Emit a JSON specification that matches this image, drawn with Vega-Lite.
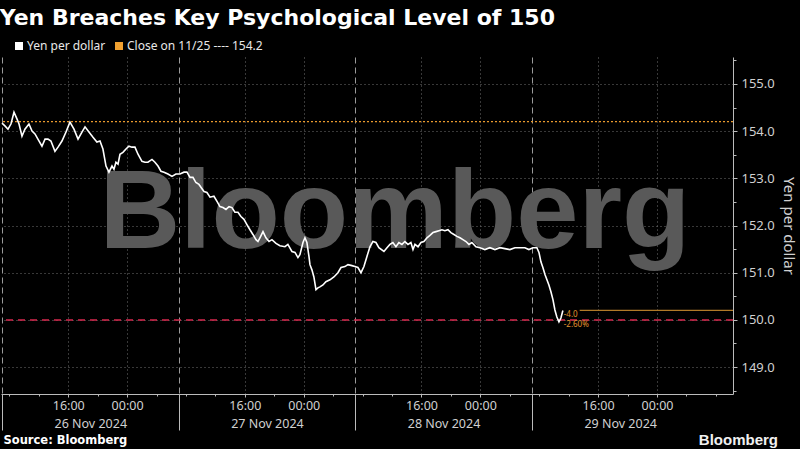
{
  "$schema": "https://vega.github.io/schema/vega-lite/v6.json",
  "width": 732,
  "height": 337,
  "autosize": {"type": "none"},
  "padding": {"left": 1, "top": 57, "right": 67, "bottom": 55},
  "background": "#000000",
  "title": {
    "text": "Yen Breaches Key Psychological Level of 150",
    "anchor": "start",
    "font": "DejaVu Sans",
    "fontSize": 22,
    "fontWeight": "bold",
    "color": "#ffffff",
    "offset": 10,
    "dx": 1
  },
  "config": {
    "view": {"stroke": null},
    "font": "Noto Sans",
    "axis": {"labelOverlap": false, "zindex": 1}
  },
  "resolve": {"axis": {"x": "independent", "y": "independent"}},
  "datasets": {
    "yen": [
      {"t": "2024-11-26T07:00Z", "v": 154.17}, {"t": "2024-11-26T07:24Z", "v": 154.11}, {"t": "2024-11-26T07:49Z", "v": 154.04},
      {"t": "2024-11-26T08:13Z", "v": 154.15}, {"t": "2024-11-26T08:38Z", "v": 154.40}, {"t": "2024-11-26T09:02Z", "v": 154.26},
      {"t": "2024-11-26T09:19Z", "v": 154.15}, {"t": "2024-11-26T09:43Z", "v": 153.89}, {"t": "2024-11-26T10:07Z", "v": 154.04},
      {"t": "2024-11-26T10:40Z", "v": 154.15}, {"t": "2024-11-26T11:05Z", "v": 154.00}, {"t": "2024-11-26T11:29Z", "v": 153.94},
      {"t": "2024-11-26T11:53Z", "v": 153.83}, {"t": "2024-11-26T12:26Z", "v": 153.68}, {"t": "2024-11-26T12:51Z", "v": 153.83},
      {"t": "2024-11-26T13:15Z", "v": 153.83}, {"t": "2024-11-26T13:39Z", "v": 153.79}, {"t": "2024-11-26T14:12Z", "v": 153.57},
      {"t": "2024-11-26T14:37Z", "v": 153.66}, {"t": "2024-11-26T15:09Z", "v": 153.79}, {"t": "2024-11-26T15:42Z", "v": 153.98},
      {"t": "2024-11-26T16:14Z", "v": 154.19}, {"t": "2024-11-26T16:47Z", "v": 154.04}, {"t": "2024-11-26T17:20Z", "v": 153.83},
      {"t": "2024-11-26T17:52Z", "v": 153.98}, {"t": "2024-11-26T18:17Z", "v": 154.09}, {"t": "2024-11-26T18:49Z", "v": 153.98},
      {"t": "2024-11-26T19:22Z", "v": 153.87}, {"t": "2024-11-26T19:54Z", "v": 153.77}, {"t": "2024-11-26T20:19Z", "v": 153.79},
      {"t": "2024-11-26T20:43Z", "v": 153.62}, {"t": "2024-11-26T21:08Z", "v": 153.26}, {"t": "2024-11-26T21:32Z", "v": 153.13},
      {"t": "2024-11-26T21:57Z", "v": 153.26}, {"t": "2024-11-26T22:13Z", "v": 153.19}, {"t": "2024-11-26T22:29Z", "v": 153.34},
      {"t": "2024-11-26T22:46Z", "v": 153.30}, {"t": "2024-11-26T23:02Z", "v": 153.51}, {"t": "2024-11-26T23:26Z", "v": 153.55},
      {"t": "2024-11-26T23:51Z", "v": 153.62},
      {"t": "2024-11-27T00:15Z", "v": 153.68}, {"t": "2024-11-27T00:40Z", "v": 153.66}, {"t": "2024-11-27T01:04Z", "v": 153.66},
      {"t": "2024-11-27T01:29Z", "v": 153.51}, {"t": "2024-11-27T02:01Z", "v": 153.36}, {"t": "2024-11-27T02:26Z", "v": 153.34},
      {"t": "2024-11-27T02:50Z", "v": 153.34}, {"t": "2024-11-27T03:23Z", "v": 153.40}, {"t": "2024-11-27T03:47Z", "v": 153.34},
      {"t": "2024-11-27T04:12Z", "v": 153.26}, {"t": "2024-11-27T04:36Z", "v": 153.15}, {"t": "2024-11-27T05:01Z", "v": 153.13},
      {"t": "2024-11-27T05:33Z", "v": 153.09}, {"t": "2024-11-27T06:06Z", "v": 153.04}, {"t": "2024-11-27T06:38Z", "v": 153.09},
      {"t": "2024-11-27T07:11Z", "v": 153.09}, {"t": "2024-11-27T07:44Z", "v": 153.13}, {"t": "2024-11-27T08:08Z", "v": 153.13},
      {"t": "2024-11-27T08:33Z", "v": 153.02}, {"t": "2024-11-27T08:57Z", "v": 153.02}, {"t": "2024-11-27T09:21Z", "v": 152.91},
      {"t": "2024-11-27T09:46Z", "v": 152.87}, {"t": "2024-11-27T10:02Z", "v": 152.81}, {"t": "2024-11-27T10:27Z", "v": 152.72},
      {"t": "2024-11-27T10:51Z", "v": 152.70}, {"t": "2024-11-27T11:16Z", "v": 152.60}, {"t": "2024-11-27T11:48Z", "v": 152.62},
      {"t": "2024-11-27T12:13Z", "v": 152.51}, {"t": "2024-11-27T12:37Z", "v": 152.40}, {"t": "2024-11-27T13:02Z", "v": 152.38},
      {"t": "2024-11-27T13:26Z", "v": 152.34}, {"t": "2024-11-27T13:51Z", "v": 152.40}, {"t": "2024-11-27T14:15Z", "v": 152.38},
      {"t": "2024-11-27T14:39Z", "v": 152.28}, {"t": "2024-11-27T15:04Z", "v": 152.28}, {"t": "2024-11-27T15:28Z", "v": 152.19},
      {"t": "2024-11-27T15:53Z", "v": 152.13}, {"t": "2024-11-27T16:17Z", "v": 152.02}, {"t": "2024-11-27T16:42Z", "v": 151.91},
      {"t": "2024-11-27T17:06Z", "v": 151.81}, {"t": "2024-11-27T17:31Z", "v": 151.70}, {"t": "2024-11-27T17:47Z", "v": 151.66},
      {"t": "2024-11-27T18:03Z", "v": 151.74}, {"t": "2024-11-27T18:28Z", "v": 151.87}, {"t": "2024-11-27T18:52Z", "v": 151.74},
      {"t": "2024-11-27T19:17Z", "v": 151.66}, {"t": "2024-11-27T19:41Z", "v": 151.70}, {"t": "2024-11-27T20:14Z", "v": 151.62},
      {"t": "2024-11-27T20:46Z", "v": 151.57}, {"t": "2024-11-27T21:27Z", "v": 151.55}, {"t": "2024-11-27T21:51Z", "v": 151.60},
      {"t": "2024-11-27T22:24Z", "v": 151.45}, {"t": "2024-11-27T22:49Z", "v": 151.43}, {"t": "2024-11-27T23:13Z", "v": 151.32},
      {"t": "2024-11-27T23:29Z", "v": 151.38}, {"t": "2024-11-27T23:54Z", "v": 151.64},
      {"t": "2024-11-28T00:10Z", "v": 151.74}, {"t": "2024-11-28T00:26Z", "v": 151.64}, {"t": "2024-11-28T00:43Z", "v": 151.34},
      {"t": "2024-11-28T00:51Z", "v": 151.17}, {"t": "2024-11-28T01:07Z", "v": 151.06}, {"t": "2024-11-28T01:23Z", "v": 150.91},
      {"t": "2024-11-28T01:40Z", "v": 150.64}, {"t": "2024-11-28T01:56Z", "v": 150.68}, {"t": "2024-11-28T02:12Z", "v": 150.70},
      {"t": "2024-11-28T02:37Z", "v": 150.74}, {"t": "2024-11-28T03:01Z", "v": 150.81}, {"t": "2024-11-28T03:34Z", "v": 150.85},
      {"t": "2024-11-28T04:06Z", "v": 150.91}, {"t": "2024-11-28T04:39Z", "v": 151.00}, {"t": "2024-11-28T05:04Z", "v": 151.11},
      {"t": "2024-11-28T05:36Z", "v": 151.13}, {"t": "2024-11-28T06:01Z", "v": 151.17}, {"t": "2024-11-28T06:33Z", "v": 151.15},
      {"t": "2024-11-28T06:58Z", "v": 151.13}, {"t": "2024-11-28T07:22Z", "v": 151.11}, {"t": "2024-11-28T07:47Z", "v": 151.00},
      {"t": "2024-11-28T08:11Z", "v": 151.13}, {"t": "2024-11-28T08:35Z", "v": 151.34}, {"t": "2024-11-28T09:00Z", "v": 151.55},
      {"t": "2024-11-28T09:24Z", "v": 151.66}, {"t": "2024-11-28T09:49Z", "v": 151.64}, {"t": "2024-11-28T10:13Z", "v": 151.53},
      {"t": "2024-11-28T10:54Z", "v": 151.45}, {"t": "2024-11-28T11:19Z", "v": 151.53}, {"t": "2024-11-28T11:43Z", "v": 151.60},
      {"t": "2024-11-28T12:07Z", "v": 151.64}, {"t": "2024-11-28T12:32Z", "v": 151.55}, {"t": "2024-11-28T12:56Z", "v": 151.64},
      {"t": "2024-11-28T13:21Z", "v": 151.60}, {"t": "2024-11-28T13:45Z", "v": 151.66}, {"t": "2024-11-28T14:10Z", "v": 151.60},
      {"t": "2024-11-28T14:34Z", "v": 151.64}, {"t": "2024-11-28T14:51Z", "v": 151.49}, {"t": "2024-11-28T15:07Z", "v": 151.60},
      {"t": "2024-11-28T15:32Z", "v": 151.55}, {"t": "2024-11-28T15:56Z", "v": 151.64}, {"t": "2024-11-28T16:20Z", "v": 151.66},
      {"t": "2024-11-28T16:45Z", "v": 151.74}, {"t": "2024-11-28T17:09Z", "v": 151.79}, {"t": "2024-11-28T17:34Z", "v": 151.85},
      {"t": "2024-11-28T17:58Z", "v": 151.87}, {"t": "2024-11-28T18:22Z", "v": 151.89}, {"t": "2024-11-28T18:47Z", "v": 151.91},
      {"t": "2024-11-28T19:11Z", "v": 151.89}, {"t": "2024-11-28T19:36Z", "v": 151.91}, {"t": "2024-11-28T20:00Z", "v": 151.85},
      {"t": "2024-11-28T20:25Z", "v": 151.81}, {"t": "2024-11-28T20:49Z", "v": 151.77}, {"t": "2024-11-28T21:14Z", "v": 151.74},
      {"t": "2024-11-28T21:38Z", "v": 151.70}, {"t": "2024-11-28T22:03Z", "v": 151.66}, {"t": "2024-11-28T22:27Z", "v": 151.60},
      {"t": "2024-11-28T22:51Z", "v": 151.64}, {"t": "2024-11-28T23:24Z", "v": 151.55}, {"t": "2024-11-28T23:57Z", "v": 151.53},
      {"t": "2024-11-29T00:37Z", "v": 151.49}, {"t": "2024-11-29T01:18Z", "v": 151.53}, {"t": "2024-11-29T01:59Z", "v": 151.49},
      {"t": "2024-11-29T02:40Z", "v": 151.53}, {"t": "2024-11-29T03:20Z", "v": 151.51}, {"t": "2024-11-29T04:01Z", "v": 151.49},
      {"t": "2024-11-29T04:42Z", "v": 151.53}, {"t": "2024-11-29T05:23Z", "v": 151.53}, {"t": "2024-11-29T06:03Z", "v": 151.53},
      {"t": "2024-11-29T06:36Z", "v": 151.49}, {"t": "2024-11-29T07:09Z", "v": 151.53}, {"t": "2024-11-29T07:41Z", "v": 151.53},
      {"t": "2024-11-29T07:58Z", "v": 151.43}, {"t": "2024-11-29T08:14Z", "v": 151.23}, {"t": "2024-11-29T08:30Z", "v": 151.11},
      {"t": "2024-11-29T08:47Z", "v": 150.96}, {"t": "2024-11-29T09:03Z", "v": 150.85}, {"t": "2024-11-29T09:19Z", "v": 150.74},
      {"t": "2024-11-29T09:35Z", "v": 150.60}, {"t": "2024-11-29T09:52Z", "v": 150.43}, {"t": "2024-11-29T10:08Z", "v": 150.21},
      {"t": "2024-11-29T10:24Z", "v": 150.06}, {"t": "2024-11-29T10:41Z", "v": 149.96}, {"t": "2024-11-29T10:57Z", "v": 150.04},
      {"t": "2024-11-29T11:13Z", "v": 150.20}
    ],
    "lastline": [
      {"t": "2024-11-29T13:30Z", "t2": "2024-11-30T10:20Z", "v": 150.2}
    ]
  },
  "layer": [
    {
      "data": {"values": [{}]},
      "mark": {"type": "text", "text": "Bloomberg", "font": "Liberation Sans", "fontWeight": "bold", "fontSize": 112, "color": "#595959", "align": "center", "baseline": "alphabetic"},
      "encoding": {
        "x": {"datum": {"year": 2024, "month": 11, "date": 28, "hours": 12, "minutes": 24, "utc": true}, "type": "temporal", "axis": null},
        "y": {"datum": 151.53, "type": "quantitative", "axis": null}
      }
    },
    {
      "data": {"values": [{}]},
      "mark": {"type": "rule", "stroke": "#d6284e", "strokeWidth": 1.5, "strokeDash": [7, 5]},
      "encoding": {
        "y": {"datum": 150, "type": "quantitative", "axis": null}
      }
    },
    {
      "data": {"values": [{}]},
      "mark": {"type": "rule", "stroke": "#e8982c", "strokeWidth": 1.2, "strokeDash": [2, 2]},
      "encoding": {
        "y": {"datum": 154.2, "type": "quantitative", "axis": null}
      }
    },
    {
      "data": {"name": "lastline"},
      "mark": {"type": "rule", "stroke": "#b07a28", "strokeWidth": 1.2},
      "encoding": {
        "x": {
          "field": "t",
          "type": "temporal",
          "axis": {
            "orient": "bottom",
            "values": [
              {"year": 2024, "month": 11, "date": 26, "hours": 7, "utc": true},
              {"year": 2024, "month": 11, "date": 27, "hours": 7, "utc": true},
              {"year": 2024, "month": 11, "date": 28, "hours": 7, "utc": true},
              {"year": 2024, "month": 11, "date": 29, "hours": 7, "utc": true}
            ],
            "labels": false,
            "domain": false,
            "ticks": true,
            "tickSize": 36,
            "tickColor": "#bbbbbb",
            "grid": true,
            "gridColor": "#9a9a9a",
            "gridDash": [6, 4],
            "title": null
          }
        },
        "x2": {"field": "t2"},
        "y": {
          "field": "v",
          "type": "quantitative",
          "axis": {
            "orient": "right",
            "values": [148.5, 149.5, 150.5, 151.5, 152.5, 153.5, 154.5, 155.5],
            "labels": false,
            "domain": false,
            "grid": false,
            "ticks": true,
            "tickSize": 3,
            "tickColor": "#bbbbbb",
            "title": null
          }
        }
      }
    },
    {
      "data": {"name": "yen"},
      "mark": {"type": "line", "strokeWidth": 1.6, "interpolate": "linear"},
      "encoding": {
        "x": {
          "field": "t",
          "type": "temporal",
          "scale": {
            "type": "utc",
            "domain": [
              {"year": 2024, "month": 11, "date": 26, "hours": 6, "minutes": 52, "utc": true},
              {"year": 2024, "month": 11, "date": 30, "hours": 10, "minutes": 20, "utc": true}
            ]
          },
          "axis": {
            "orient": "bottom",
            "values": [
              {"year": 2024, "month": 11, "date": 26, "hours": 16, "utc": true},
              {"year": 2024, "month": 11, "date": 27, "hours": 0, "utc": true},
              {"year": 2024, "month": 11, "date": 27, "hours": 16, "utc": true},
              {"year": 2024, "month": 11, "date": 28, "hours": 0, "utc": true},
              {"year": 2024, "month": 11, "date": 28, "hours": 16, "utc": true},
              {"year": 2024, "month": 11, "date": 29, "hours": 0, "utc": true},
              {"year": 2024, "month": 11, "date": 29, "hours": 16, "utc": true},
              {"year": 2024, "month": 11, "date": 30, "hours": 0, "utc": true}
            ],
            "labelExpr": "utcFormat(datum.value, '%H:%M')",
            "labelOverlap": false,
            "labelBound": false,
            "labelFlush": false,
            "labelColor": "#d0d0d0",
            "labelFont": "Noto Sans",
            "labelFontSize": 12.5,
            "labelPadding": 2,
            "tickSize": 3,
            "tickColor": "#bbbbbb",
            "domainColor": "#bbbbbb",
            "grid": true,
            "gridColor": "#707070",
            "gridDash": [1, 3],
            "title": "Source: Bloomberg",
            "titleAnchor": "start",
            "titleAlign": "left",
            "titleX": 2,
            "titleY": 49,
            "titleBaseline": "alphabetic",
            "titleFont": "DejaVu Sans",
            "titleFontSize": 11.5,
            "titleFontWeight": "bold",
            "titleColor": "#ffffff"
          }
        },
        "y": {
          "field": "v",
          "type": "quantitative",
          "scale": {"domain": [148.43, 155.57], "zero": false, "nice": false},
          "axis": {
            "orient": "right",
            "values": [149, 150, 151, 152, 153, 154, 155],
            "format": ".1f",
            "labelOverlap": false,
            "grid": true,
            "gridColor": "#707070",
            "gridDash": [1, 3],
            "tickSize": 4,
            "tickColor": "#bbbbbb",
            "domainColor": "#bbbbbb",
            "labelColor": "#d0d0d0",
            "labelFont": "Noto Sans",
            "labelFontSize": 13,
            "labelPadding": 4,
            "title": "Yen per dollar",
            "titleColor": "#d0d0d0",
            "titleFont": "Noto Sans",
            "titleFontSize": 15,
            "titleFontWeight": "normal",
            "titlePadding": 6
          }
        },
        "color": {
          "datum": "Yen per dollar",
          "type": "nominal",
          "scale": {"domain": ["Yen per dollar", "Close on 11/25 ---- 154.2"], "range": ["#ffffff", "#f0a030"]},
          "legend": {
            "orient": "none",
            "legendX": 12,
            "legendY": -17,
            "direction": "horizontal",
            "title": null,
            "symbolType": "square",
            "symbolSize": 16,
            "symbolStrokeWidth": 4,
            "symbolDash": [100, 0],
            "labelFont": "Noto Sans",
            "labelFontSize": 12,
            "labelColor": "#e8e8e8",
            "labelOffset": 2,
            "columnPadding": 3
          }
        }
      }
    },
    {
      "data": {"values": [{}]},
      "mark": {"type": "text", "text": "-4.0", "font": "Noto Sans", "fontSize": 8, "color": "#e0942e", "align": "left", "baseline": "middle"},
      "encoding": {
        "x": {
          "datum": {"year": 2024, "month": 11, "date": 29, "hours": 11, "minutes": 20, "utc": true},
          "type": "temporal",
          "axis": {
            "orient": "bottom",
            "values": [
              {"year": 2024, "month": 11, "date": 26, "hours": 8, "utc": true},
              {"year": 2024, "month": 11, "date": 26, "hours": 12, "utc": true},
              {"year": 2024, "month": 11, "date": 26, "hours": 20, "utc": true},
              {"year": 2024, "month": 11, "date": 27, "hours": 4, "utc": true},
              {"year": 2024, "month": 11, "date": 27, "hours": 8, "utc": true},
              {"year": 2024, "month": 11, "date": 27, "hours": 12, "utc": true},
              {"year": 2024, "month": 11, "date": 27, "hours": 20, "utc": true},
              {"year": 2024, "month": 11, "date": 28, "hours": 4, "utc": true},
              {"year": 2024, "month": 11, "date": 28, "hours": 8, "utc": true},
              {"year": 2024, "month": 11, "date": 28, "hours": 12, "utc": true},
              {"year": 2024, "month": 11, "date": 28, "hours": 20, "utc": true},
              {"year": 2024, "month": 11, "date": 29, "hours": 4, "utc": true},
              {"year": 2024, "month": 11, "date": 29, "hours": 8, "utc": true},
              {"year": 2024, "month": 11, "date": 29, "hours": 12, "utc": true},
              {"year": 2024, "month": 11, "date": 29, "hours": 20, "utc": true},
              {"year": 2024, "month": 11, "date": 30, "hours": 4, "utc": true},
              {"year": 2024, "month": 11, "date": 30, "hours": 8, "utc": true}
            ],
            "labels": false,
            "domain": false,
            "grid": false,
            "ticks": true,
            "tickSize": 2,
            "tickColor": "#bbbbbb",
            "title": null
          }
        },
        "y": {"datum": 150.1, "type": "quantitative", "axis": null}
      }
    },
    {
      "data": {"values": [{}]},
      "mark": {"type": "text", "text": "-2.60%", "font": "Noto Sans", "fontSize": 8, "color": "#e0942e", "align": "left", "baseline": "middle"},
      "encoding": {
        "x": {
          "datum": {"year": 2024, "month": 11, "date": 29, "hours": 11, "minutes": 20, "utc": true},
          "type": "temporal",
          "axis": {
            "orient": "bottom",
            "values": [
              {"year": 2024, "month": 11, "date": 26, "hours": 19, "utc": true},
              {"year": 2024, "month": 11, "date": 27, "hours": 19, "utc": true},
              {"year": 2024, "month": 11, "date": 28, "hours": 19, "utc": true},
              {"year": 2024, "month": 11, "date": 29, "hours": 19, "utc": true}
            ],
            "labelExpr": "utcFormat(datum.value, '%-d %b %Y')",
            "labelOverlap": false,
            "labelBound": false,
            "labelFlush": false,
            "labelColor": "#d0d0d0",
            "labelFont": "Noto Sans",
            "labelFontSize": 12.5,
            "labelPadding": 23,
            "ticks": false,
            "domain": false,
            "grid": false,
            "title": null
          }
        },
        "y": {"datum": 149.89, "type": "quantitative", "axis": null}
      }
    },
    {
      "data": {"values": [{}]},
      "mark": {"type": "text", "text": "Bloomberg", "font": "Liberation Sans", "fontWeight": "bold", "fontSize": 15, "color": "#f0f0f0", "align": "right", "baseline": "alphabetic", "clip": false},
      "encoding": {
        "x": {"datum": {"year": 2024, "month": 11, "date": 30, "hours": 16, "minutes": 27, "utc": true}, "type": "temporal", "axis": null},
        "y": {"datum": 147.36, "type": "quantitative", "axis": null}
      }
    }
  ]
}
